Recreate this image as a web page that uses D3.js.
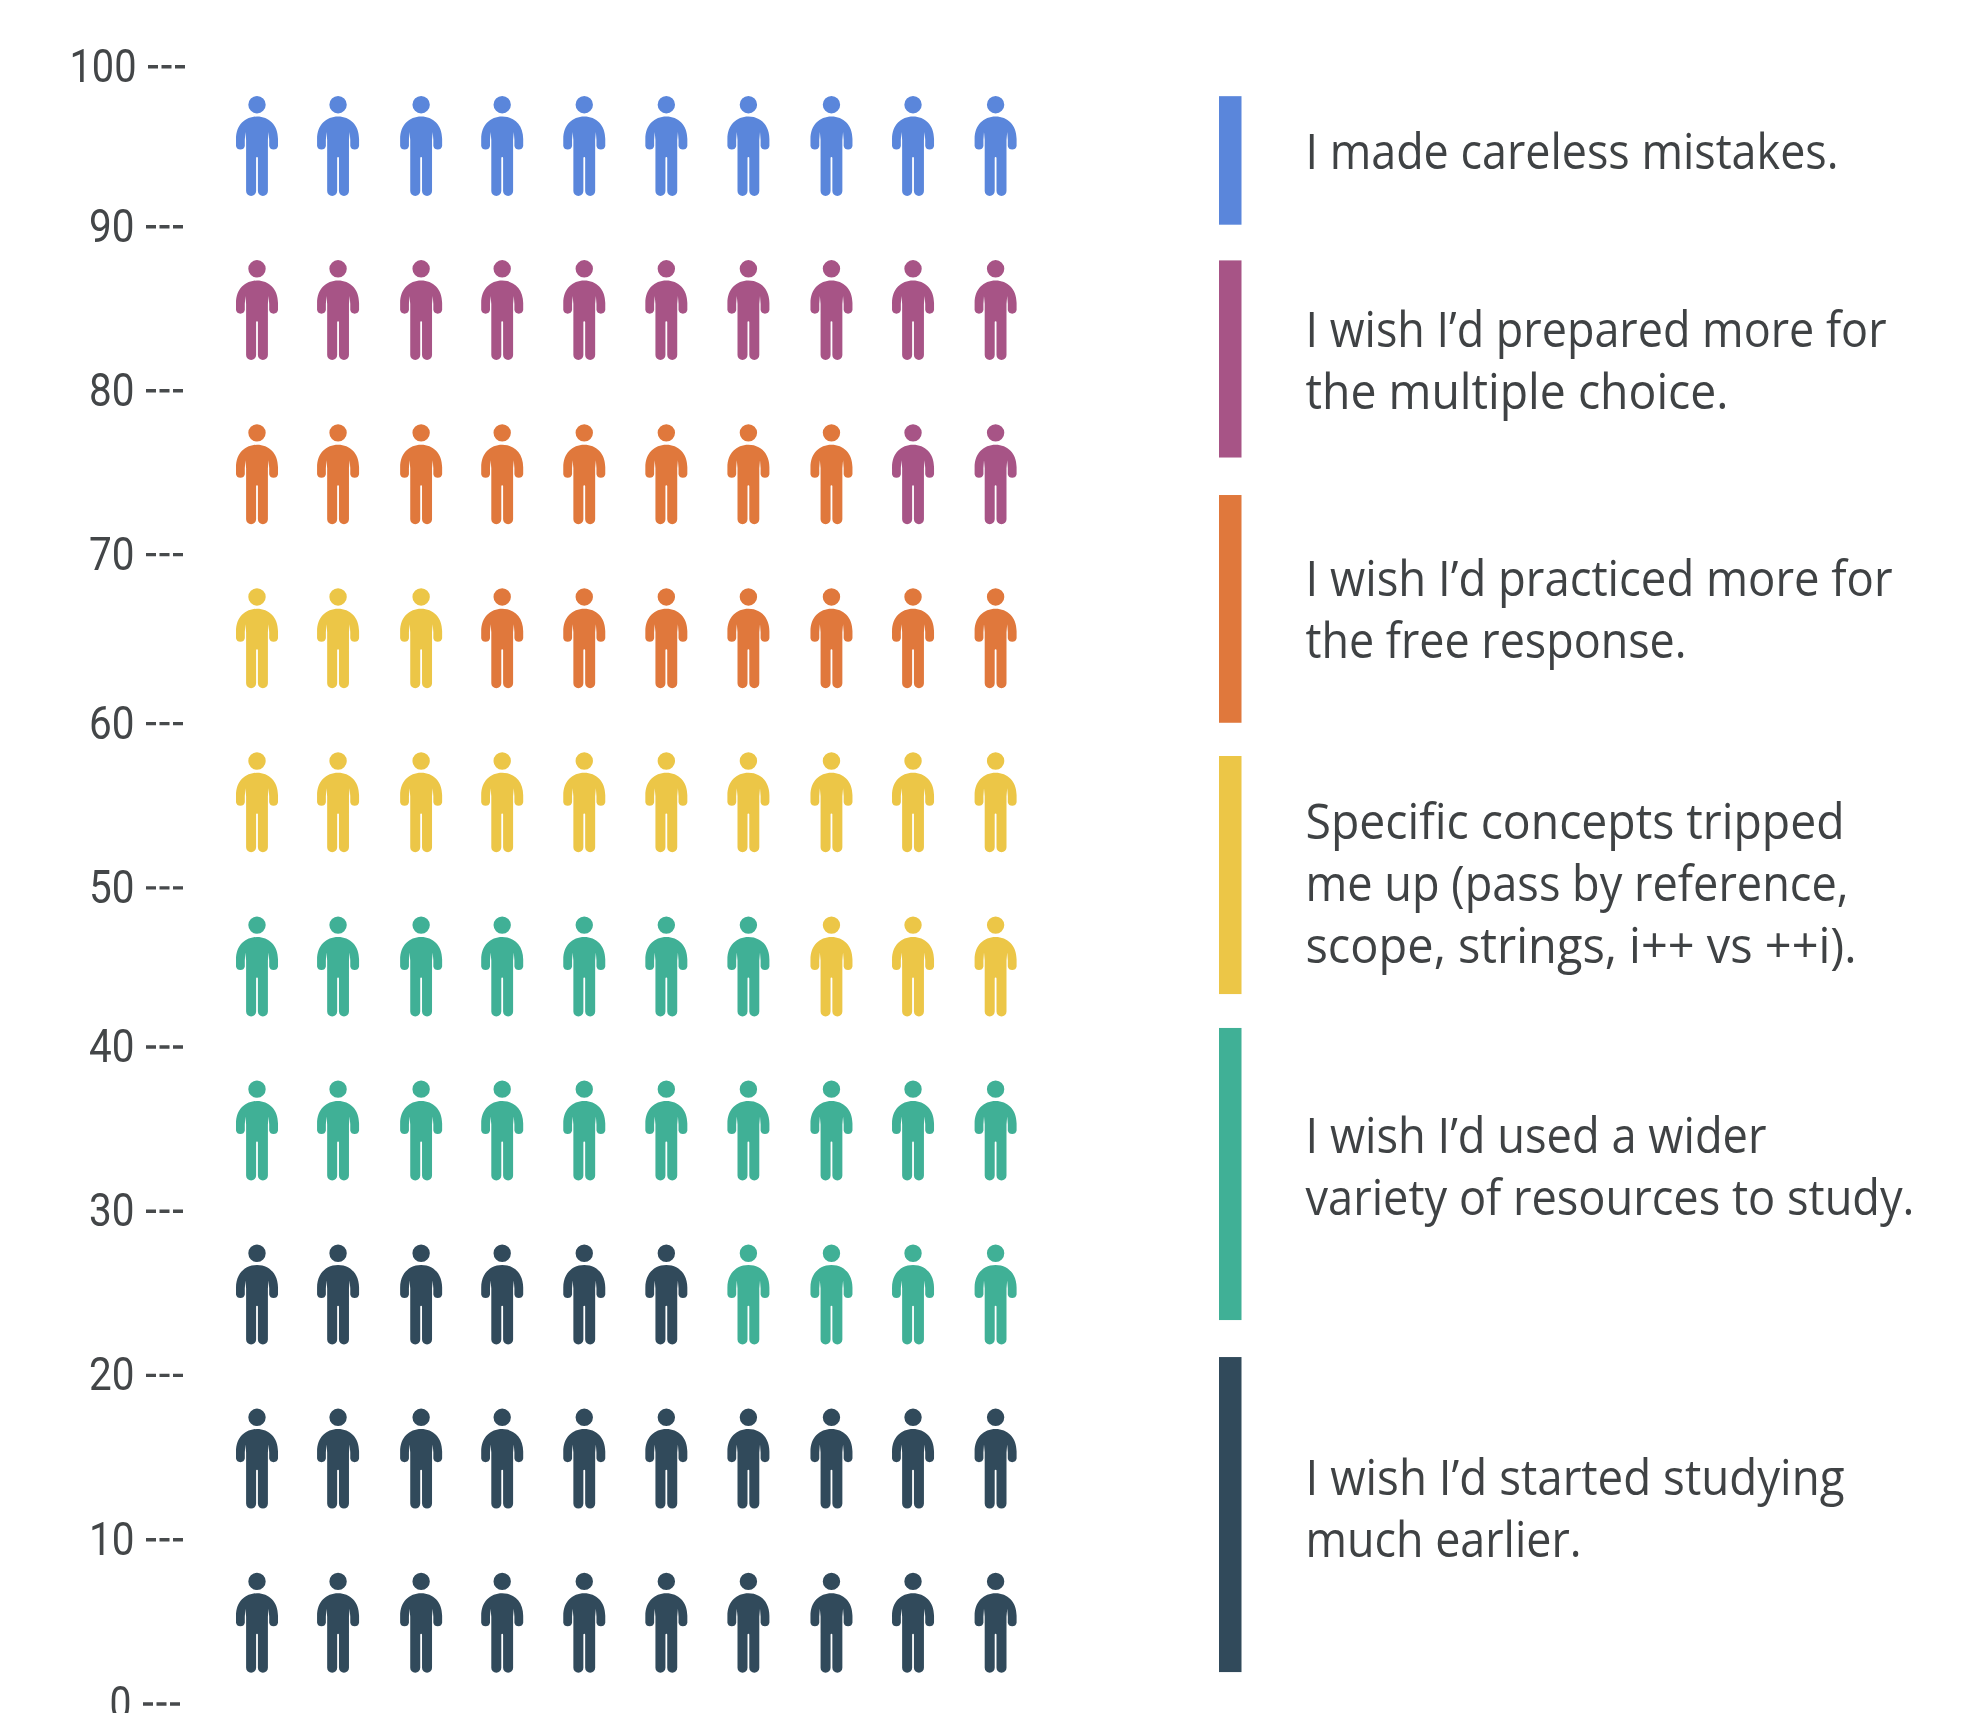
<!DOCTYPE html>
<html>
<head>
<meta charset="utf-8">
<script src="https://cdn.jsdelivr.net/npm/d3@7"></script>
<style>
html,body{margin:0;padding:0;background:#fff;}
svg{display:block;filter:blur(0.6px);}
</style>
</head>
<body>
<div id="chart"></div>
<script>
// ---------- data ----------
const categories = ["careless","multiple","free","concepts","resources","earlier"];
const counts = [10, 12, 15, 16, 21, 26];
const legendFrom = [98.2, 88.17, 73.84, 57.9, 41.29, 21.19];
const legendTo   = [90.35, 76.13, 59.93, 43.36, 23.45, 1.95];
const legendLines = [
  ["I made careless mistakes."],
  ["I wish I\u2019d prepared more for","the multiple choice."],
  ["I wish I\u2019d practiced more for","the free response."],
  ["Specific concepts tripped","me up (pass by reference,","scope, strings, i++ vs ++i)."],
  ["I wish I\u2019d used a wider","variety of resources to study."],
  ["I wish I\u2019d started studying","much earlier."]
];
const tickValues = [0,10,20,30,40,50,60,70,80,90,100];
const colorValues = ["#5a86db","#a75486","#e0783c","#ecc647","#40b096","#314a5b"];

// ---------- layout ----------
const W = 1988, H = 1713;
const tickDY = {0:0,10:-0.5,20:-1.2,30:-1.5,40:-2.1,50:2.5,60:2,70:-3.3,80:-3.4,90:-3.7,100:0};
const tickDX = {0:-3,100:2};
const colDX = [0,-1,0,-1,-1,-1,-1,0,-0.5,0];
const legendLineWidths = [533,581,423,587,381,539,543,551,461,609,539,276];
const legendTextDY = [-9,1,0,8,-8,-6.5];
const lineGap = 62, capH = 36;

const y = d3.scaleLinear().domain([0,100]).range([1704,66.7]);
const col = d3.scalePoint().domain(d3.range(10)).range([257,995.6]);
const row = d3.scalePoint().domain(d3.range(10)).range([1572.7,96]);
const color = d3.scaleOrdinal().domain(categories).range(colorValues);

const svg = d3.select("#chart").append("svg").attr("width",W).attr("height",H).attr("viewBox",`0 0 ${W} ${H}`);

// ---------- axis ----------
const axis = svg.append("g").attr("transform","translate(183,0)")
  .call(d3.axisLeft(y).tickValues(tickValues).tickSize(37).tickPadding(0).tickFormat(d=>d));
axis.select(".domain").remove();
axis.selectAll(".tick")
  .attr("transform",d=>`translate(${tickDX[d]||0},${y(d)+(tickDY[d]||0)})`);
axis.selectAll(".tick line")
  .attr("stroke","#474a4c").attr("stroke-width",3.4).attr("stroke-dasharray","10 3.5 10 3.5 10");
axis.selectAll(".tick text")
  .attr("x",-48.5).attr("y",15).attr("dy",0)
  .attr("text-anchor","end")
  .attr("font-family","Roboto").attr("font-size",46).attr("fill","#434648")
  .attr("textLength",d=>String(d).length===3?67:String(d).length===2?45.5:22)
  .attr("lengthAdjust","spacingAndGlyphs");

// ---------- people ----------
const personPath = "M0,20.5C12,20.5 21,29 21,43L21,50A4.5,4.5 0 0 1 12.2,50L12.2,44L11.6,36L10.9,44L10.9,95A4.9,4.9 0 0 1 0.9,95L0.9,62A0.9,0.9 0 0 0 -0.9,62L-0.9,95A4.9,4.9 0 0 1 -10.9,95L-10.9,44L-11.6,36L-12.2,44L-12.2,50A4.5,4.5 0 0 1 -21,50L-21,43C-21,29 -12,20.5 0,20.5Z"
  + "M-8.7,8.7A8.7,8.7 0 1 0 8.7,8.7A8.7,8.7 0 1 0 -8.7,8.7Z";
// fill bottom row first, each row left to right, starting with the last category
const people = [];
for (let i = categories.length-1; i >= 0; i--) {
  for (let n = 0; n < counts[i]; n++) people.push(categories[i]);
}
svg.append("g").selectAll("path").data(people).join("path")
  .attr("d",personPath)
  .attr("fill",d=>color(d))
  .attr("transform",(d,i)=>{
    const c = i%10, r = Math.floor(i/10);
    return `translate(${col(c)+colDX[c]},${row(r)})`;
  });

// ---------- legend ----------
const legend = svg.append("g").selectAll("g").data(categories).join("g");
legend.append("rect")
  .attr("x",1219).attr("width",22.5)
  .attr("y",(d,i)=>y(legendFrom[i]))
  .attr("height",(d,i)=>y(legendTo[i])-y(legendFrom[i]))
  .attr("fill",d=>color(d));
let lineIdx = 0;
legend.each(function(d,i){
  const lines = legendLines[i];
  const mid = (y(legendFrom[i])+y(legendTo[i]))/2 + legendTextDY[i];
  const base = mid + capH/2 - (lines.length-1)*lineGap/2;
  const g = d3.select(this);
  lines.forEach((t,k)=>{
    g.append("text")
      .attr("x",1305.5).attr("y",base+k*lineGap)
      .attr("font-family","'Open Sans'").attr("font-size",50).attr("fill","#3f4244")
      .attr("textLength",legendLineWidths[lineIdx++])
      .attr("lengthAdjust","spacingAndGlyphs")
      .text(t);
  });
});
</script>
</body>
</html>
